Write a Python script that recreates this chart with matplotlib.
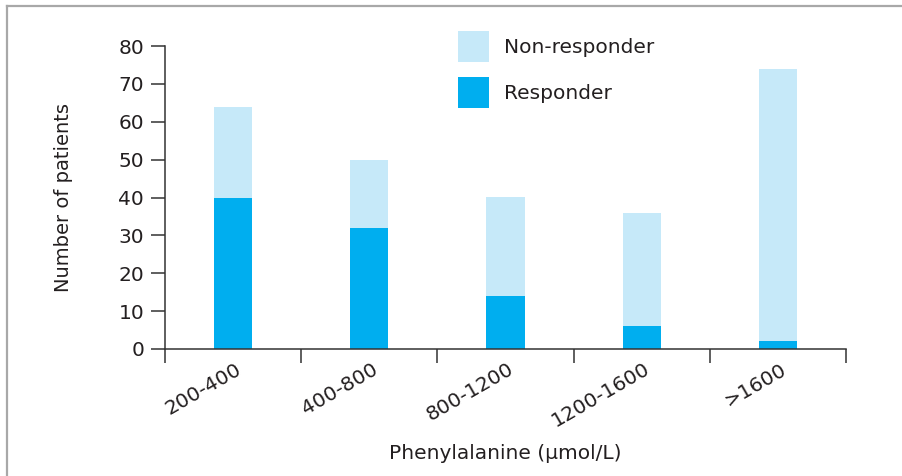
import numpy as np
import matplotlib
matplotlib.use('Agg')
import matplotlib.pyplot as plt
from matplotlib.patches import Patch
import matplotlib.transforms as mtransforms

plt.rcParams['font.family'] = ['DejaVu Sans']

#data
categories = ['200-400', '400-800', '800-1200', '1200-1600', '>1600']
responder = [40, 32, 14, 6, 2]
total = [64, 50, 40, 36, 74]
non_responder = [t - r for t, r in zip(total, responder)]

dark = '#00AEEF'
light = '#C6E9F9'
axcol = '#333333'
txtcol = '#231F20'
fs = 14.5

fig = plt.figure(figsize=(9.02, 4.76), dpi=100)
ax = fig.add_axes([165 / 902, 1 - 349 / 476, (846 - 165) / 902, (349 - 46) / 476])

x = np.arange(len(categories))
ax.bar(x, responder, width=0.28, color=dark, label='Responder', zorder=2)
ax.bar(x, non_responder, width=0.28, bottom=responder, color=light,
       label='Non-responder', zorder=2)

ax.set_xlim(-0.5, len(categories) - 0.5)
ax.set_ylim(0, 80)
ax.set_yticks(np.arange(0, 81, 10))

#boundaries get the tick marks, centres get the labels
ax.set_xticks(np.arange(-0.5, len(categories), 1.0))
ax.set_xticklabels([])
ax.set_xticks(x, minor=True)
ax.set_xticklabels(categories, minor=True, rotation=30, ha='right', va='top',
                   rotation_mode='anchor', fontsize=fs, color=txtcol)
ax.tick_params(axis='x', which='minor', length=0, pad=7.5)
offset = mtransforms.ScaledTranslation(1.5 / 72, 0, fig.dpi_scale_trans)
for lab in ax.get_xticklabels(minor=True):
    lab.set_transform(lab.get_transform() + offset)

ax.tick_params(axis='both', which='major', direction='out', length=10,
               width=1.1, color=axcol, labelsize=fs, labelcolor=txtcol, pad=5)
for s in ['top', 'right']:
    ax.spines[s].set_visible(False)
for s in ['left', 'bottom']:
    ax.spines[s].set_linewidth(1.1)
    ax.spines[s].set_color(axcol)
ax.spines['bottom'].set_bounds(-0.5, len(categories) - 0.5)

ax.set_ylabel('Number of patients', fontsize=14, color=txtcol, labelpad=33)
ax.set_xlabel('Phenylalanine (\u00b5mol/L)', fontsize=fs, color=txtcol, labelpad=9.5)

handles = [Patch(facecolor=light, edgecolor='none'), Patch(facecolor=dark, edgecolor='none')]
ax.legend(handles, ['Non-responder', 'Responder'], loc='upper left',
          bbox_to_anchor=(0.403, 1.11), frameon=False, fontsize=fs,
          handlelength=1.54, handleheight=2.0, labelspacing=0.75,
          handletextpad=0.75, labelcolor=txtcol)

#thin grey frame along the top and left edges
fig.add_artist(plt.Line2D([7 / 902, 7 / 902], [0, 1 - 5.5 / 476], color='#a8a8a8', lw=1.6))
fig.add_artist(plt.Line2D([7 / 902, 1], [1 - 5.5 / 476, 1 - 5.5 / 476], color='#a8a8a8', lw=1.6))

fig.savefig('out.png', dpi=100)
